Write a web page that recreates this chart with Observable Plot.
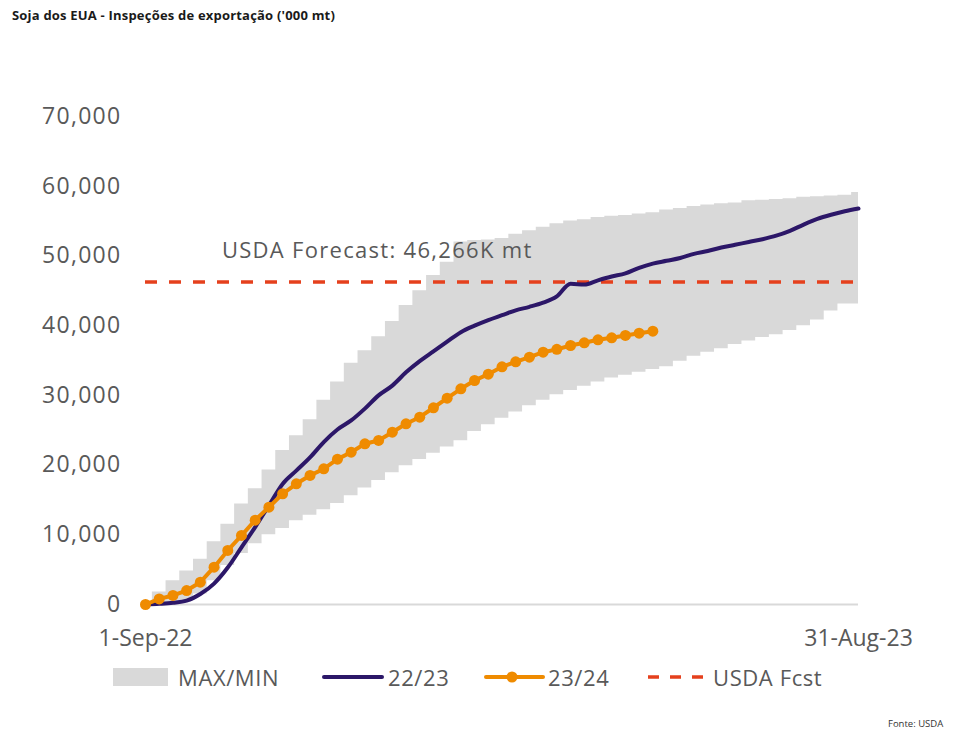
<!DOCTYPE html>
<html><head><meta charset="utf-8">
<script src="https://cdn.jsdelivr.net/npm/d3@7"></script>
<script src="https://cdn.jsdelivr.net/npm/@observablehq/plot@0.6"></script>
<style>
body{margin:0;background:#fff;font-family:"Open Sans",sans-serif;}
#wrap{position:relative;width:961px;height:733px;overflow:hidden;}
#title{position:absolute;left:12px;top:6px;font-size:13px;letter-spacing:0.2px;font-weight:700;color:#1a1a1a;white-space:nowrap;}
#chart{position:absolute;left:0;top:30px;}
#legend{position:absolute;left:113px;top:662px;height:30px;display:flex;align-items:center;font-size:22px;letter-spacing:0.6px;color:#595959;white-space:nowrap;}
#legend span{display:inline-block;}
#source{position:absolute;left:888px;top:717px;font-size:9.5px;color:#333;white-space:nowrap;}
</style></head><body>
<div id="wrap">
  <div id="title"></div>
  <div id="chart"></div>
  <div id="legend"></div>
  <div id="source"></div>
</div>
<script>
// ---- text ----
const titleText = "Soja dos EUA - Inspeções de exportação ('000 mt)";
const sourceText = "Fonte: USDA";
const seriesNames = ["MAX/MIN", "22/23", "23/24", "USDA Fcst"];
const xTickLabels = ["1-Sep-22", "31-Aug-23"];
const yTicks = [0, 10000, 20000, 30000, 40000, 50000, 60000, 70000];
const annotationText = "USDA Forecast: 46,266K mt";
const annotationDate = "2022-10-10";

// ---- data (weekly, week 0 = 1-Sep-22, week 52 = 31-Aug-23) ----
const startDate = "2022-09-01";
const bandMax = [0, 1800, 3400, 4800, 6500, 9000, 11500, 14400, 16600, 19300,
  22100, 24200, 26500, 29300, 31900, 34600, 36400, 38400, 40600, 42900,
  45000, 47200, 49100, 52000, 52200, 52300, 52500, 53100, 53600, 54100,
  54600, 55000, 55200, 55500, 55700, 55800, 56000, 56200, 56600, 56800,
  57100, 57300, 57500, 57600, 57900, 58000, 58100, 58200, 58400, 58500,
  58600, 58700, 59100];
const bandMin = [0, 0, 200, 500, 1500, 3400, 5600, 7300, 8700, 10000,
  10900, 12000, 12800, 13600, 14500, 15600, 16700, 17800, 18900, 19900,
  20800, 21700, 22600, 23500, 24800, 25800, 26700, 27600, 28500, 29300,
  30100, 30700, 31300, 31900, 32500, 32900, 33300, 33700, 34100, 34900,
  35600, 36200, 36700, 37300, 37800, 38300, 38700, 39300, 40000, 40800,
  42100, 43100, 43100];
const s2223 = [0, 100, 250, 550, 1500, 3000, 5300, 8200, 11100, 14200,
  17300, 19200, 21100, 23300, 25100, 26400, 28100, 30000, 31400, 33300,
  34900, 36300, 37700, 39060, 40000, 40800, 41500, 42200, 42700, 43300,
  44200, 46000, 45900, 46500, 47050, 47500, 48300, 48900, 49300, 49700,
  50300, 50700, 51200, 51600, 52000, 52400, 52900, 53600, 54500, 55300,
  55900, 56400, 56800];
const s2324 = [0, 800, 1300, 2000, 3200, 5350, 7750, 9900, 12100, 13960,
  15880, 17310, 18510, 19460, 20850, 21850, 23050, 23530, 24720, 25920,
  26870, 28220, 29600, 30940, 32130, 33040, 34090, 34810, 35470, 36190,
  36600, 37150, 37540, 37970, 38260, 38590, 38920, 39210];
const usdaFcst = 46266;

// ---- colours ----
const cBand = "#d9d9d9", cPurple = "#2c1768", cOrange = "#ef8b00", cRed = "#e5401d";

const t0 = new Date(startDate + "T00:00:00Z");
const weekDate = i => d3.utcDay.offset(t0, 7 * i);
const band = bandMax.map((mx, i) => ({date: weekDate(i), max: mx, min: bandMin[i]}));
const line2223 = s2223.map((v, i) => ({date: weekDate(i), value: v}));
const line2324 = s2324.map((v, i) => ({date: weekDate(i), value: v}));
const xEnd = weekDate(52);

document.getElementById("title").textContent = titleText;
document.getElementById("source").textContent = sourceText;

const chart = Plot.plot({
  width: 961, height: 630,
  marginLeft: 145, marginRight: 103, marginTop: 86, marginBottom: 56,
  style: {fontFamily: "'Open Sans', sans-serif", fontSize: "23px", color: "#595959", background: "transparent", overflow: "visible"},
  x: {type: "utc", domain: [t0, xEnd], ticks: [t0, xEnd],
      tickFormat: d => (+d === +t0 ? xTickLabels[0] : xTickLabels[1]),
      tickSize: 0, tickPadding: 25, label: null},
  y: {domain: [0, 70000], ticks: yTicks, tickFormat: d3.format(","), tickSize: 0, tickPadding: 24, label: null},
  marks: [
    Plot.areaY(band, {x: "date", y1: "min", y2: "max", curve: "step", fill: cBand}),
    Plot.ruleY([0], {stroke: "#d9d9d9", strokeWidth: 2}),
    Plot.ruleY([usdaFcst], {stroke: cRed, strokeWidth: 3.5, strokeDasharray: "12,12"}),
    Plot.lineY(line2223, {x: "date", y: "value", stroke: cPurple, strokeWidth: 4, curve: "monotone-x"}),
    Plot.lineY(line2324, {x: "date", y: "value", stroke: cOrange, strokeWidth: 4}),
    Plot.dot(line2324, {x: "date", y: "value", r: 5.5, fill: cOrange}),
    Plot.text([annotationText], {x: () => new Date(annotationDate + "T00:00:00Z"), y: () => usdaFcst,
      text: d => d, dy: -31, textAnchor: "start", fontSize: 22, fill: "#595959"})
  ]
});
document.getElementById("chart").appendChild(chart);
d3.select(chart).selectAll("g[aria-label='y-axis tick label'] text").style("letter-spacing", "1.3px");
d3.select(chart).selectAll("g[aria-label='text'] text").style("letter-spacing", "1.3px");

// ---- legend ----
const legend = d3.select("#legend");
function swatch(w, h, draw, ml) {
  const s = legend.append("svg").attr("width", w).attr("height", h).style("margin-left", ml + "px").style("overflow", "visible");
  draw(s);
}
function label(t, ml, w) { legend.append("span").text(t).style("margin-left", ml + "px").style("width", w + "px"); }
swatch(55, 18, s => s.append("rect").attr("width", 55).attr("height", 18).attr("fill", cBand), 0);
label(seriesNames[0], 10, 105);
swatch(62, 10, s => s.append("line").attr("x1", 2).attr("x2", 60).attr("y1", 5).attr("y2", 5)
  .attr("stroke", cPurple).attr("stroke-width", 4).attr("stroke-linecap", "round"), 39);
label(seriesNames[1], 4, 57);
swatch(61, 12, s => { s.append("line").attr("x1", 2).attr("x2", 59).attr("y1", 6).attr("y2", 6)
  .attr("stroke", cOrange).attr("stroke-width", 4).attr("stroke-linecap", "round");
  s.append("circle").attr("cx", 28).attr("cy", 6).attr("r", 5.5).attr("fill", cOrange); }, 39);
label(seriesNames[2], 3, 61);
swatch(60, 10, s => s.append("line").attr("x1", 2).attr("x2", 58).attr("y1", 5).attr("y2", 5)
  .attr("stroke", cRed).attr("stroke-width", 3.5).attr("stroke-dasharray", "11,11"), 37);
label(seriesNames[3], 7, 125);
</script>
</body></html>
